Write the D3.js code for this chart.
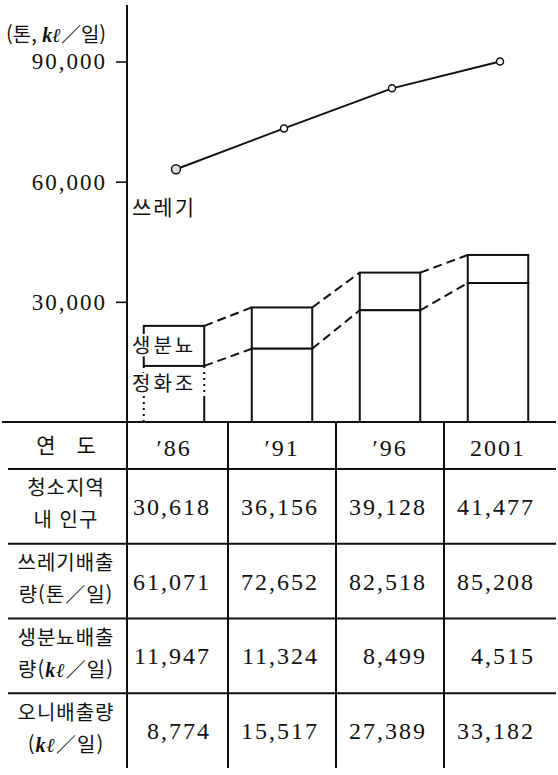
<!DOCTYPE html>
<html lang="ko">
<head>
<meta charset="UTF-8">
<title>쓰레기·분뇨 배출량 전망</title>
<style>
  body { margin: 0; background: #fff; }
  svg { display: block; }
  .kr   { font-family: "Noto Sans CJK KR", sans-serif; fill: #111; }
  .num  { font-family: "Liberation Serif", serif; font-size: 24px; letter-spacing: 2px; fill: #111; }
  .tick line { stroke: #111; stroke-width: 1.6; }
  .grid { stroke: #111; stroke-width: 2; }
  .bar  { fill: #fff; stroke: #111; stroke-width: 2; }
  .dash { stroke: #111; stroke-width: 2; stroke-dasharray: 9,5; fill: none; }
  .garb { stroke: #111; stroke-width: 2; fill: none; }
  .kl   { font-family: "Liberation Serif", serif; font-style: italic; font-weight: bold; }
</style>
</head>
<body>
<svg id="chart" width="558" height="775"></svg>
<script src="https://d3js.org/d3.v7.min.js"></script>
<script>
// 연도
const YEARS = ["′86", "′91", "′96", "2001"];
// 그림에서 읽은 값 (톤, kℓ/일)
const SEPTIC    = [14000, 18300, 27900, 34700];  // 정화조 (막대 아래)
const NIGHTSOIL = [10000, 10300, 9400, 7000];    // 생분뇨 (막대 위)
const GARBAGE   = [63100, 73300, 83300, 90000];  // 쓰레기 (선)
const Y_TICKS   = [30000, 60000, 90000];
// 표
const ROW_LABELS = [
  ["청소지역", "내 인구"],
  ["쓰레기배출", "량(톤／일)"],
  ["생분뇨배출", "량(kℓ／일)"],
  ["오니배출량", "(kℓ／일)"]
];
const ROW_VALUES = [
  ["30,618", "36,156", "39,128", "41,477"],
  ["61,071", "72,652", "82,518", "85,208"],
  ["11,947", "11,324", "8,499", "4,515"],
  ["8,774", "15,517", "27,389", "33,182"]
];

const svg = d3.select("#chart");
const axisX = 127, baseY = 422, tableBottom = 768, headBottom = 469;

const x = d3.scaleBand().domain(YEARS).range([120, 552]).paddingInner(0.44).paddingOuter(0.22);
const y = d3.scaleLinear().domain([0, 90000]).range([baseY, 61.5]);
const rows = d3.scaleBand().domain(d3.range(ROW_LABELS.length)).range([headBottom, tableBottom]);
const cx = d => x(d) + x.bandwidth() / 2;

// kℓ 를 이탤릭으로
function richText(sel, str) {
  str.split("kℓ").forEach((part, i) => {
    if (i > 0) sel.append("tspan").attr("class", "kl").text("kℓ");
    if (part) sel.append("tspan").text(part);
  });
}

// 막대 (정화조 + 생분뇨)
YEARS.forEach((yr, i) => {
  const x0 = x(yr), w = x.bandwidth();
  const yMid = y(SEPTIC[i]), yTop = y(SEPTIC[i] + NIGHTSOIL[i]);
  svg.append("rect").attr("class", "bar")
    .attr("x", x0).attr("y", yTop).attr("width", w).attr("height", yMid - yTop);
  if (i === 0) {
    // '86: 아래 칸 옆선은 점선
    svg.append("line").attr("class", "grid").attr("stroke-dasharray", "2,4").attr("stroke-width", 1.2)
      .attr("x1", x0).attr("x2", x0).attr("y1", yMid).attr("y2", baseY);
    svg.append("line").attr("class", "grid").attr("stroke-dasharray", "2,4").attr("stroke-width", 1.2)
      .attr("x1", x0 + w).attr("x2", x0 + w).attr("y1", yMid).attr("y2", yMid + 32);
    svg.append("line").attr("class", "grid")
      .attr("x1", x0 + w).attr("x2", x0 + w).attr("y1", yMid + 32).attr("y2", baseY);
  } else {
    svg.append("rect").attr("class", "bar")
      .attr("x", x0).attr("y", yMid).attr("width", w).attr("height", baseY - yMid);
  }
});

// 막대 사이 점선
d3.pairs(d3.range(YEARS.length)).forEach(([a, b]) => {
  [SEPTIC[a] + NIGHTSOIL[a], SEPTIC[a]].forEach((v, k) => {
    const vb = k === 0 ? SEPTIC[b] + NIGHTSOIL[b] : SEPTIC[b];
    svg.append("line").attr("class", "dash")
      .attr("x1", x(YEARS[a]) + x.bandwidth()).attr("y1", y(v))
      .attr("x2", x(YEARS[b])).attr("y2", y(vb));
  });
});

// 쓰레기 선
const pts = YEARS.map((yr, i) => [cx(yr) + 2, y(GARBAGE[i])]);
svg.append("path").attr("class", "garb").attr("d", d3.line()(pts));
svg.selectAll("circle.pt").data(pts).join("circle").attr("class", "pt")
  .attr("cx", d => d[0]).attr("cy", d => d[1]).attr("r", (d, i) => i === 0 ? 4.5 : 3.5)
  .attr("fill", (d, i) => i === 0 ? "#ddd" : "#fff").attr("stroke", "#111").attr("stroke-width", 1.5);

// 범례 글자
svg.append("text").attr("class", "kr").attr("x", axisX + 5).attr("y", y(53500))
  .attr("dy", "0.35em").style("font-size", "21px").style("letter-spacing", "2px").text("쓰레기");
[["생분뇨", y(SEPTIC[0] + NIGHTSOIL[0] / 2)], ["정화조", y(SEPTIC[0]) + 18]].forEach(([t, yy]) => {
  svg.append("text").attr("class", "kr").attr("x", axisX + 5).attr("y", yy).attr("dy", "0.35em")
    .style("font-size", "20px").style("letter-spacing", "3px")
    .attr("stroke", "#fff").attr("stroke-width", 4).attr("paint-order", "stroke").text(t);
});

// y 축
const yAxis = svg.append("g").attr("transform", `translate(${axisX},0)`)
  .call(d3.axisLeft(y).tickValues(Y_TICKS).tickSize(11).tickPadding(9).tickFormat(d3.format(",")));
yAxis.select(".domain").remove();
yAxis.selectAll(".tick text")
  .style("font-family", "'Liberation Serif', serif").style("font-size", "23px")
  .style("letter-spacing", "2px").attr("fill", "#111");
svg.append("line").attr("class", "grid").attr("x1", axisX).attr("x2", axisX).attr("y1", 5).attr("y2", tableBottom);
const title = svg.append("text").attr("class", "kr").attr("x", 6).attr("y", 35).attr("dy", "0.35em")
  .style("font-size", "20px");
richText(title, "(톤, kℓ／일)");

// 표 선
svg.append("line").attr("class", "grid").attr("x1", 2).attr("x2", 556).attr("y1", baseY).attr("y2", baseY);
[headBottom, ...d3.range(1, ROW_LABELS.length).map(r => rows(r))].forEach(yy => {
  svg.append("line").attr("class", "grid").attr("x1", 8).attr("x2", 556).attr("y1", yy).attr("y2", yy);
});
YEARS.slice(0, -1).forEach(yr => {
  const xx = x(yr) + x.bandwidth() + (x.step() - x.bandwidth()) / 2;
  svg.append("line").attr("class", "grid").attr("x1", xx).attr("x2", xx).attr("y1", baseY).attr("y2", tableBottom);
});

// 머리줄
const headY = (baseY + headBottom) / 2;
svg.append("text").attr("class", "kr").attr("x", 66).attr("y", headY).attr("dy", "0.35em")
  .attr("text-anchor", "middle").style("font-size", "21px").text("연　도");
YEARS.forEach(yr => {
  svg.append("text").attr("class", "num").attr("x", cx(yr)).attr("y", headY + 2).attr("dy", "0.35em")
    .attr("text-anchor", "middle").text(yr);
});

// 줄 이름과 값
ROW_LABELS.forEach((lab, r) => {
  const mid = rows(r) + rows.bandwidth() / 2;
  lab.forEach((line, k) => {
    const t = svg.append("text").attr("class", "kr").attr("x", 66).attr("y", mid + (k === 0 ? -18 : 14))
      .attr("dy", "0.35em").attr("text-anchor", "middle").style("font-size", "20px").style("letter-spacing", "1px");
    richText(t, line);
  });
  ROW_VALUES[r].forEach((v, i) => {
    svg.append("text").attr("class", "num").attr("x", cx(YEARS[i]) + 37).attr("y", mid)
      .attr("dy", "0.35em").attr("text-anchor", "end").text(v);
  });
});
</script>
</body>
</html>
